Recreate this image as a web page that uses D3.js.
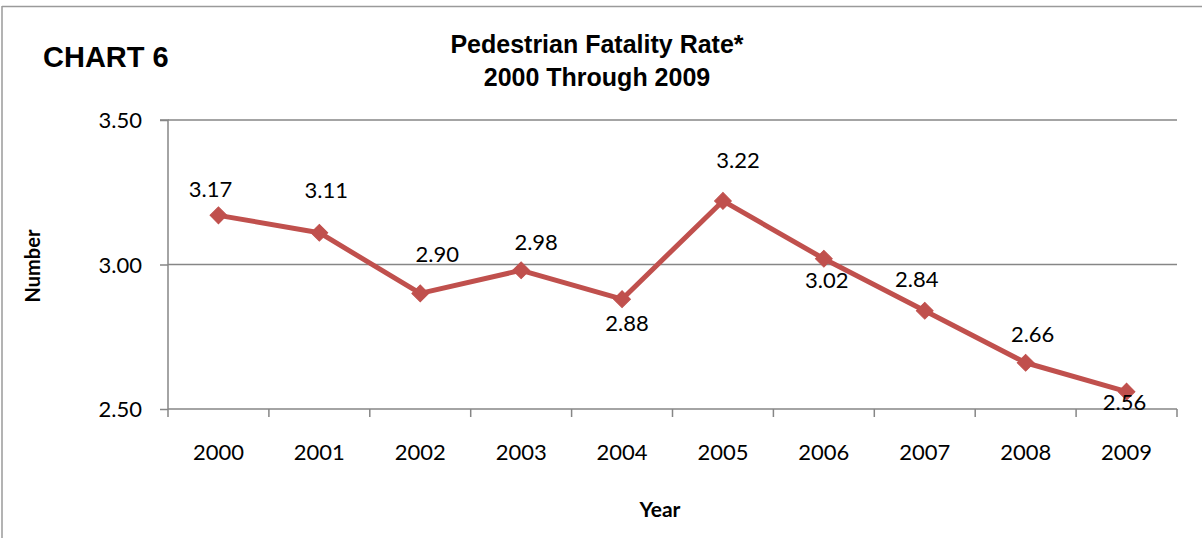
<!DOCTYPE html>
<html>
<head>
<meta charset="utf-8">
<script src="https://cdn.jsdelivr.net/npm/d3@7"></script>
<style>
  html, body { margin: 0; padding: 0; background: #fff; }
  svg { display: block; }
</style>
</head>
<body>
<svg id="chart" width="1202" height="538"></svg>
<script>
// ---- data ----
const years = ["2000","2001","2002","2003","2004","2005","2006","2007","2008","2009"];
const rates = [3.17, 3.11, 2.90, 2.98, 2.88, 3.22, 3.02, 2.84, 2.66, 2.56];
const yTicks = [2.50, 3.00, 3.50];
const titleLines = ["Pedestrian Fatality Rate*", "2000 Through 2009"];
const chartTag = "CHART 6";
const xTitle = "Year";
const yTitle = "Number";

// ---- layout (label nudges as placed in the original) ----
const labelDx = [-8, 7, 17, 15, 5, 15, 3, -8, 7, -2];
const labelDy = [-18, -35, -31, -20, 32, -33, 29, -24, -21, 18];

const W = 1202, H = 538;
const plot = { left: 168, right: 1177, top: 120, bottom: 409 };
const svg = d3.select("#chart");
const gray = "#868686";
const red = "#C0504D";
const numFont = "Lato, 'Open Sans', sans-serif";
const headFont = "'Liberation Sans', Arial, sans-serif";

// outer frame (top and left edges visible)
svg.append("line").attr("x1", 2).attr("x2", W).attr("y1", 6.5).attr("y2", 6.5)
  .attr("stroke", "#9a9a9a").attr("stroke-width", 1.5);
svg.append("line").attr("x1", 2).attr("x2", 2).attr("y1", 6).attr("y2", H)
  .attr("stroke", "#9a9a9a").attr("stroke-width", 1.5);

const x = d3.scaleBand().domain(years).range([plot.left, plot.right]).padding(0);
const y = d3.scaleLinear().domain([2.5, 3.5]).range([plot.bottom, plot.top]);

// gridlines
svg.append("g").selectAll("line").data(yTicks.filter(d => d !== 2.5)).join("line")
  .attr("x1", plot.left).attr("x2", plot.right)
  .attr("y1", d => y(d)).attr("y2", d => y(d))
  .attr("stroke", gray).attr("stroke-width", 1.5);

// y axis
const yAxis = d3.axisLeft(y).tickValues(yTicks).tickFormat(d3.format(".2f")).tickSize(8).tickPadding(18);
const gy = svg.append("g").attr("transform", `translate(${plot.left},0)`).call(yAxis);
gy.select(".domain").attr("stroke", gray).attr("stroke-width", 1.5).attr("d", `M-8,${plot.top}H0V${plot.bottom}`);
gy.selectAll(".tick line").attr("stroke", gray).attr("stroke-width", 1.5);
gy.selectAll(".tick text").attr("font-family", numFont).attr("font-size", 22).attr("fill", "#000").attr("dy", "0.35em");

// x axis: ticks at category boundaries
const gx = svg.append("g").attr("transform", `translate(0,${plot.bottom})`)
  .call(d3.axisBottom(x).tickSize(0).tickPadding(35));
gx.select(".domain").attr("stroke", gray).attr("stroke-width", 1.5).attr("d", `M${plot.left},0H${plot.right}`);
gx.selectAll(".tick text").attr("font-family", numFont).attr("font-size", 22).attr("fill", "#000");
const boundaries = years.map(d => x(d)).concat([x(years[years.length - 1]) + x.bandwidth()]);
gx.append("g").selectAll("line").data(boundaries).join("line")
  .attr("x1", d => d).attr("x2", d => d).attr("y1", 0).attr("y2", 8)
  .attr("stroke", gray).attr("stroke-width", 1.5);

// line series
const cx = (d, i) => x(years[i]) + x.bandwidth() / 2;
const line = d3.line().x((d, i) => cx(d, i)).y(d => y(d));
svg.append("path").datum(rates).attr("d", line)
  .attr("fill", "none").attr("stroke", red).attr("stroke-width", 5)
  .attr("stroke-linejoin", "round");

// diamond markers
svg.append("g").selectAll("path").data(rates).join("path")
  .attr("d", d3.symbol().type(d3.symbolSquare).size(140))
  .attr("transform", (d, i) => `translate(${cx(d, i)},${y(d)}) rotate(45)`)
  .attr("fill", red).attr("stroke", red).attr("stroke-width", 1);

// data labels
svg.append("g").selectAll("text").data(rates).join("text")
  .attr("x", (d, i) => cx(d, i) + labelDx[i])
  .attr("y", (d, i) => y(d) + labelDy[i])
  .attr("text-anchor", "middle")
  .attr("font-family", numFont).attr("font-size", 22).attr("fill", "#000")
  .text(d => d3.format(".2f")(d));

// titles
svg.append("text").attr("x", 43).attr("y", 67)
  .attr("font-family", headFont).attr("font-weight", "bold")
  .attr("font-size", 29).attr("fill", "#000").text(chartTag);
svg.append("g").selectAll("text").data(titleLines).join("text")
  .attr("x", 597).attr("y", (d, i) => 53 + i * 33)
  .attr("text-anchor", "middle")
  .attr("font-family", headFont).attr("font-weight", "bold")
  .attr("font-size", 25).attr("fill", "#000").text(d => d);

svg.append("text").attr("x", 660).attr("y", 517)
  .attr("text-anchor", "middle").attr("font-family", numFont).attr("font-weight", "bold")
  .attr("font-size", 21).attr("fill", "#000").text(xTitle);
svg.append("text").attr("transform", `translate(40,266) rotate(-90)`)
  .attr("text-anchor", "middle").attr("font-family", numFont).attr("font-weight", "bold")
  .attr("font-size", 20).attr("fill", "#000").text(yTitle);
</script>
</body>
</html>
